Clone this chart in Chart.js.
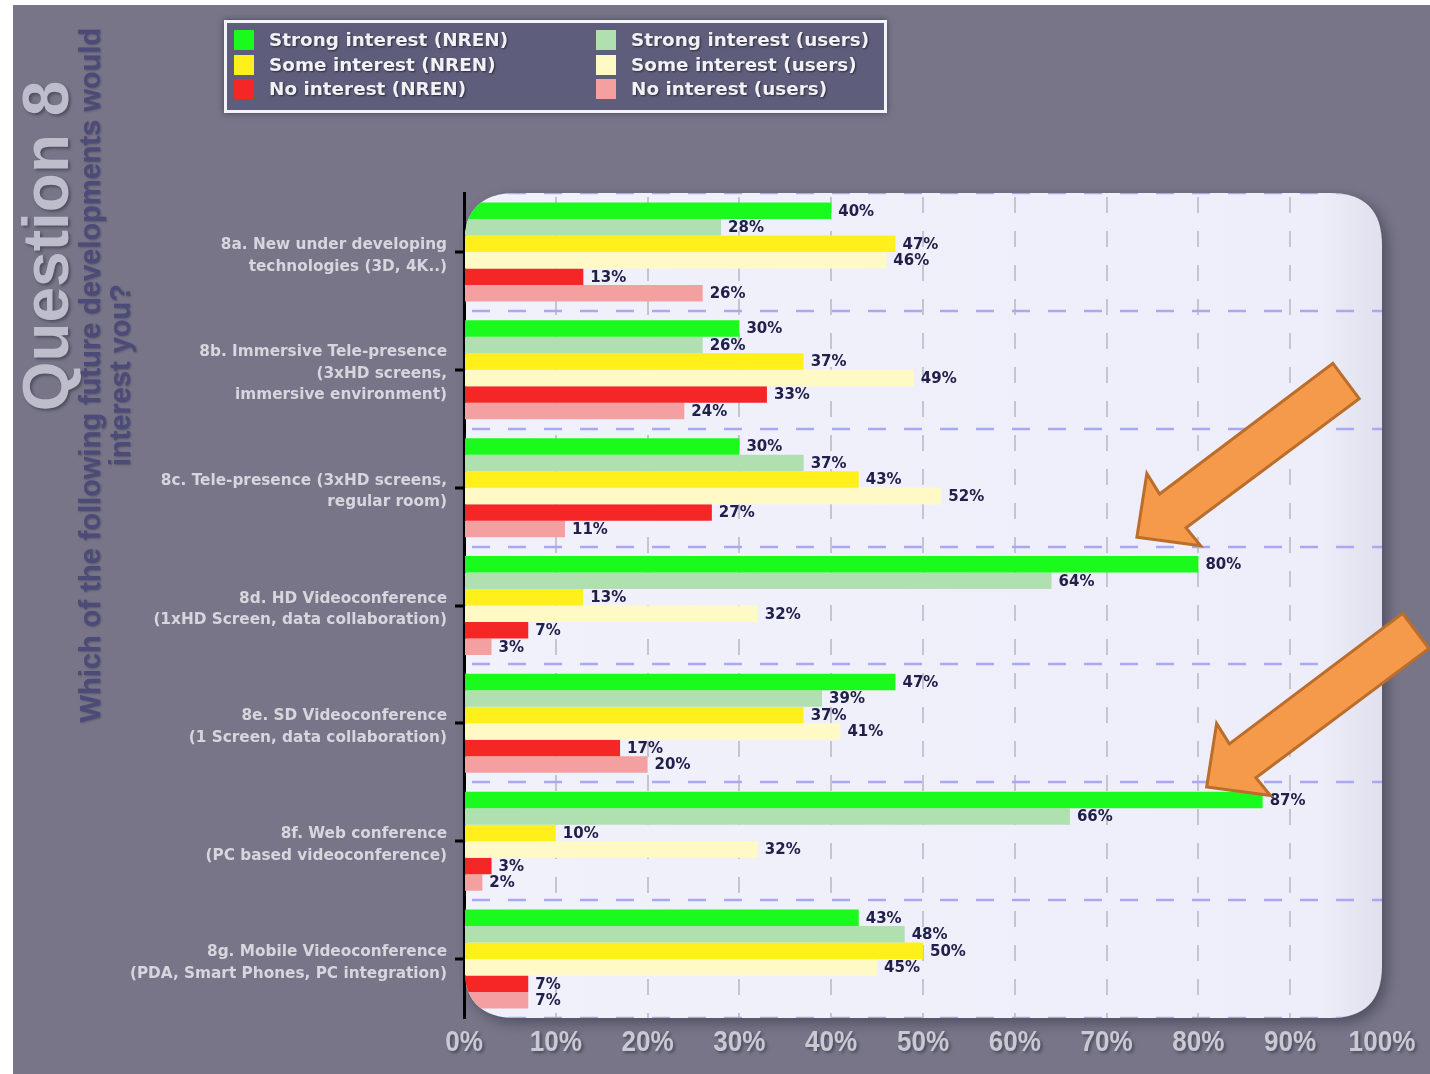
<!DOCTYPE html>
<html>
<head>
<meta charset="utf-8">
<title>Question 8</title>
<script src="https://cdn.jsdelivr.net/npm/chart.js@4.4.1/dist/chart.umd.min.js"></script>
<style>
  html, body { margin: 0; padding: 0; background: #fff; }
  #wrap { width: 1430px; height: 1074px; }
</style>
</head>
<body>
<div id="wrap"><canvas id="chart" width="1430" height="1074"></canvas></div>
<script>
// categories (multi-line tick labels)
const categories = [
  ["8a. New under developing", "technologies (3D, 4K..)"],
  ["8b. Immersive Tele-presence", "(3xHD screens,", "immersive environment)"],
  ["8c. Tele-presence (3xHD screens,", "regular room)"],
  ["8d. HD Videoconference", "(1xHD Screen, data collaboration)"],
  ["8e. SD Videoconference", "(1 Screen, data collaboration)"],
  ["8f. Web conference", "(PC based videoconference)"],
  ["8g. Mobile Videoconference", "(PDA, Smart Phones, PC integration)"]
];

const seriesLabels = [
  "Strong interest (NREN)", "Strong interest (users)",
  "Some interest (NREN)", "Some interest (users)",
  "No interest (NREN)", "No interest (users)"
];

// % of answers
const strongNren  = [40, 30, 30, 80, 47, 87, 43];
const strongUsers = [28, 26, 37, 64, 39, 66, 48];
const someNren    = [47, 37, 43, 13, 37, 10, 50];
const someUsers   = [46, 49, 52, 32, 41, 32, 45];
const noNren      = [13, 33, 27, 7, 17, 3, 7];
const noUsers     = [26, 24, 11, 3, 20, 2, 7];

const xTicks = [0, 10, 20, 30, 40, 50, 60, 70, 80, 90, 100];

const colors = ["#1afa1c", "#b0dfb0", "#fff01c", "#fff9c6", "#f52626", "#f5a0a0"];
const allSeries = [strongNren, strongUsers, someNren, someUsers, noNren, noUsers];

function roundRectPath(ctx, x, y, w, h, r) {
  ctx.beginPath();
  ctx.moveTo(x + r, y);
  ctx.lineTo(x + w - r, y);
  ctx.quadraticCurveTo(x + w, y, x + w, y + r);
  ctx.lineTo(x + w, y + h - r);
  ctx.quadraticCurveTo(x + w, y + h, x + w - r, y + h);
  ctx.lineTo(x + r, y + h);
  ctx.quadraticCurveTo(x, y + h, x, y + h - r);
  ctx.lineTo(x, y + r);
  ctx.quadraticCurveTo(x, y, x + r, y);
  ctx.closePath();
}

const RADIUS = 52;

// background, legend, titles
const backdrop = {
  id: "backdrop",
  beforeDraw(chart) {
    const ctx = chart.ctx;
    const a = chart.chartArea;
    ctx.save();
    ctx.fillStyle = "#ffffff";
    ctx.fillRect(0, 0, chart.width, chart.height);
    ctx.fillStyle = "#777587";
    ctx.fillRect(13, 5, chart.width - 13, chart.height - 5);

    // plot panel
    ctx.save();
    ctx.shadowColor = "rgba(30,30,50,0.45)";
    ctx.shadowBlur = 14;
    ctx.shadowOffsetX = 5;
    ctx.shadowOffsetY = 5;
    const g = ctx.createLinearGradient(a.left, 0, a.right, 0);
    g.addColorStop(0, "#f1f1fc");
    g.addColorStop(0.93, "#eeeefa");
    g.addColorStop(1, "#e0e0ee");
    ctx.fillStyle = g;
    roundRectPath(ctx, a.left, a.top, a.right - a.left, a.bottom - a.top, RADIUS);
    ctx.fill();
    ctx.restore();

    // legend
    ctx.save();
    ctx.shadowColor = "rgba(20,20,40,0.5)";
    ctx.shadowBlur = 6;
    ctx.fillStyle = "#5e5d7b";
    ctx.fillRect(224, 20, 663, 93);
    ctx.restore();
    ctx.strokeStyle = "#f4f4f8";
    ctx.lineWidth = 3;
    ctx.strokeRect(225.5, 21.5, 660, 90);
    const colX = [234, 596];
    const rowY = [40, 65, 89];
    ctx.font = "bold 18.4px 'DejaVu Sans'";
    ctx.textBaseline = "middle";
    ctx.textAlign = "left";
    chart.data.datasets.forEach((ds, i) => {
      const x = colX[i % 2];
      const y = rowY[Math.floor(i / 2)];
      ctx.fillStyle = ds.backgroundColor;
      ctx.fillRect(x, y - 10, 20, 20);
      ctx.save();
      ctx.shadowColor = "rgba(0,0,0,0.55)";
      ctx.shadowBlur = 2;
      ctx.shadowOffsetX = 1;
      ctx.shadowOffsetY = 1;
      ctx.fillStyle = "#f2f2f6";
      ctx.fillText(ds.label, x + 35, y + 1);
      ctx.restore();
    });

    // vertical titles
    ctx.save();
    ctx.translate(68, 246);
    ctx.rotate(-Math.PI / 2);
    ctx.shadowColor = "rgba(40,40,60,0.5)";
    ctx.shadowBlur = 3;
    ctx.shadowOffsetX = 2;
    ctx.shadowOffsetY = 2;
    ctx.font = "bold 64px 'Liberation Sans'";
    ctx.fillStyle = "#bdbdcb";
    ctx.textAlign = "center";
    ctx.textBaseline = "alphabetic";
    ctx.fillText("Question 8", 0, 0);
    ctx.restore();

    ctx.save();
    ctx.translate(100, 375);
    ctx.rotate(-Math.PI / 2);
    ctx.shadowColor = "rgba(40,40,60,0.4)";
    ctx.shadowBlur = 2;
    ctx.shadowOffsetX = 1;
    ctx.shadowOffsetY = 1;
    ctx.font = "bold 29px 'Liberation Sans'";
    ctx.fillStyle = "#4b4a78";
    ctx.textAlign = "center";
    ctx.textBaseline = "alphabetic";
    ctx.fillText("Which of the following future developments would", 0, 0);
    ctx.fillText("interest you?", 0, 30);
    ctx.restore();

    ctx.restore();
  },
  beforeDatasetsDraw(chart) {
    const ctx = chart.ctx;
    const a = chart.chartArea;
    const yScale = chart.scales.y;
    ctx.save();
    roundRectPath(ctx, a.left, a.top, a.right - a.left, a.bottom - a.top, RADIUS);
    ctx.clip();
    // horizontal dashed separators between categories
    ctx.save();
    ctx.strokeStyle = "#a9a9f2";
    ctx.lineWidth = 2.5;
    ctx.setLineDash([18, 18]);
    ctx.lineDashOffset = -8;
    for (let i = 0; i <= categories.length; i++) {
      const y = Math.round(yScale.getPixelForValue(i - 0.5));
      ctx.beginPath();
      ctx.moveTo(a.left, y);
      ctx.lineTo(a.right, y);
      ctx.stroke();
    }
    ctx.restore();
  },
  afterDatasetsDraw(chart) {
    const ctx = chart.ctx;
    ctx.restore();
    const yScale = chart.scales.y;
    const xScale = chart.scales.x;
    // value labels
    ctx.save();
    ctx.font = "bold 15px 'DejaVu Sans'";
    ctx.fillStyle = "#20204a";
    ctx.textAlign = "left";
    ctx.textBaseline = "middle";
    chart.data.datasets.forEach((ds, di) => {
      const meta = chart.getDatasetMeta(di);
      meta.data.forEach((bar, i) => {
        ctx.fillText(ds.data[i] + "%", bar.x + 7, bar.y + 1);
      });
    });
    ctx.restore();
    // y tick marks at category centres
    ctx.save();
    ctx.strokeStyle = "#000";
    ctx.lineWidth = 3;
    categories.forEach((c, i) => {
      const y = Math.round(yScale.getPixelForTick(i));
      ctx.beginPath();
      ctx.moveTo(chart.chartArea.left - 9, y);
      ctx.lineTo(chart.chartArea.left, y);
      ctx.stroke();
    });
    ctx.restore();
    // x tick labels, condensed
    ctx.save();
    ctx.font = "bold 30px 'Liberation Sans'";
    ctx.fillStyle = "#c9c9d3";
    ctx.shadowColor = "rgba(40,40,60,0.55)";
    ctx.shadowBlur = 3;
    ctx.shadowOffsetX = 2;
    ctx.shadowOffsetY = 2;
    ctx.textAlign = "center";
    ctx.textBaseline = "middle";
    xTicks.forEach(v => {
      ctx.save();
      ctx.translate(xScale.getPixelForValue(v), chart.chartArea.bottom + 25);
      ctx.scale(0.87, 1);
      ctx.fillText(v + "%", 0, 0);
      ctx.restore();
    });
    ctx.restore();
  },
  afterDraw(chart, args, opts) {
    const ctx = chart.ctx;
    const xs = chart.scales.x, ys = chart.scales.y;
    opts.arrows.forEach(ar => {
      const tx = xs.getPixelForValue(ar.x);
      const ty = ys.getPixelForValue(ar.y);
      ctx.save();
      ctx.translate(tx, ty);
      ctx.rotate(Math.atan2(-156, 209));
      ctx.beginPath();
      ctx.moveTo(0, 0);
      ctx.lineTo(46, -45);
      ctx.lineTo(44, -21);
      ctx.lineTo(261, -22);
      ctx.lineTo(261, 22);
      ctx.lineTo(45, 22);
      ctx.lineTo(46, 45);
      ctx.closePath();
      ctx.fillStyle = "#f5994b";
      ctx.fill();
      ctx.lineWidth = 3;
      ctx.lineJoin = "miter";
      ctx.strokeStyle = "#bb6d2c";
      ctx.stroke();
      ctx.restore();
    });
  }
};

const datasets = allSeries.map((values, i) => ({
  label: seriesLabels[i],
  data: values,
  backgroundColor: colors[i],
  borderWidth: 0,
  categoryPercentage: 0.84,
  barPercentage: 1.0
}));

new Chart(document.getElementById("chart"), {
  type: "bar",
  data: { labels: categories, datasets: datasets },
  options: {
    indexAxis: "y",
    responsive: false,
    animation: false,
    devicePixelRatio: 1,
    layout: { padding: { top: 193, right: 48, left: 0, bottom: 0 } },
    plugins: {
      legend: { display: false },
      tooltip: { enabled: false },
      backdrop: {
        arrows: [{ x: 73.3, y: 2.42 }, { x: 80.9, y: 4.54 }]
      }
    },
    scales: {
      x: {
        min: 0,
        max: 100,
        afterFit(scale) { scale.height = 56; },
        afterBuildTicks(scale) { scale.ticks = xTicks.map(v => ({ value: v })); },
        grid: {
          drawTicks: false,
          lineWidth: 2,
          color: c => (c.tick && (c.tick.value === 0 || c.tick.value === 100)) ? "rgba(0,0,0,0)" : "#c5c5d2"
        },
        border: { display: false, dash: [16, 18], dashOffset: -4 },
        ticks: { display: false }
      },
      y: {
        afterFit(scale) { scale.width = 464; },
        grid: { display: false, drawTicks: false },
        border: { display: true, color: "#000000", width: 3 },
        ticks: {
          padding: 17,
          labelOffset: 4,
          color: "#d6d6de",
          font: { family: "'DejaVu Sans'", size: 15.3, weight: "bold", lineHeight: 1.42 }
        }
      }
    }
  },
  plugins: [backdrop]
});
</script>
</body>
</html>
